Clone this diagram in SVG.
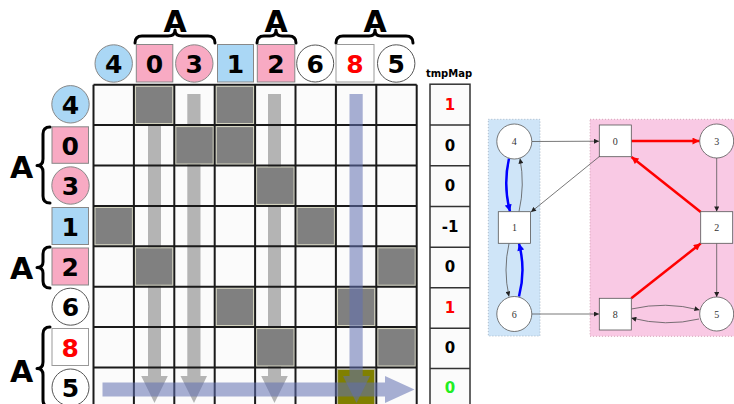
<svg xmlns="http://www.w3.org/2000/svg" width="734" height="404" viewBox="0 0 734 404">
<style>
.lbl{font-family:"DejaVu Sans","Verdana",sans-serif;font-weight:bold;font-size:25px;text-anchor:middle;dominant-baseline:central;fill:#000}
.bigA{font-family:"DejaVu Sans",sans-serif;font-weight:bold;font-size:30px;text-anchor:middle;dominant-baseline:central;fill:#000}
.brace{fill:none;stroke:#000;stroke-width:3;stroke-linejoin:round;stroke-linecap:round}
.pk{fill:#f8aac3;stroke:#888;stroke-width:1}
.bl{fill:#aad7f5;stroke:#888;stroke-width:1}
.wh{fill:#ffffff;stroke:#555;stroke-width:1}
.whs{fill:#ffffff;stroke:#999;stroke-width:1}
.cell{fill:#808080;stroke:#d6d6c0;stroke-width:1}
.grid{stroke:#1a1a1a;stroke-width:2;fill:none}
.tm{font-family:"DejaVu Sans",sans-serif;font-weight:bold;font-size:15px;text-anchor:middle;dominant-baseline:central;fill:#000}
.gn{fill:#fff;stroke:#555;stroke-width:0.8}
.gt{font-family:"Liberation Serif","DejaVu Serif",serif;font-size:10px;text-anchor:middle;dominant-baseline:central;fill:#333}
.thin{fill:none;stroke:#555;stroke-width:0.8}
.blu{fill:none;stroke:#0000ff;stroke-width:2.5}
.rd{fill:none;stroke:#ff0000;stroke-width:2.5}
.red{fill:#ff0000}
.grn{fill:#22ee22}
</style>
<defs>
<marker id="ak" viewBox="0 0 10 10" refX="10" refY="5" markerWidth="6" markerHeight="5" markerUnits="userSpaceOnUse" orient="auto"><path d="M0,0 L10,5 L0,10 z" fill="#222"/></marker>
<marker id="ab" viewBox="0 0 10 10" refX="10" refY="5" markerWidth="8" markerHeight="7" markerUnits="userSpaceOnUse" orient="auto"><path d="M0,0 L10,5 L0,10 z" fill="#0000ff"/></marker>
<marker id="ar" viewBox="0 0 10 10" refX="10" refY="5" markerWidth="8" markerHeight="7" markerUnits="userSpaceOnUse" orient="auto"><path d="M0,0 L10,5 L0,10 z" fill="#ff0000"/></marker>
</defs>
<rect x="0" y="0" width="734" height="404" fill="#ffffff"/>

<!-- top braces and A -->
<g id="top-braces">
<text class="bigA" x="175" y="21">A</text>
<path class="brace" d="M135,43 Q135,36 142,36 L168,36 Q175,36 175,30 Q175,36 182,36 L208,36 Q215,36 215,43"/>
<text class="bigA" x="276" y="21">A</text>
<path class="brace" d="M257,43 Q257,36 264,36 L270,36 Q276,36 276,30 Q276,36 282,36 L289,36 Q296,36 296,43"/>
<text class="bigA" x="375" y="21">A</text>
<path class="brace" d="M336,43 Q336,36 343,36 L369,36 Q375,36 375,30 Q375,36 381,36 L406,36 Q413,36 413,43"/>
</g>

<!-- header labels -->
<g id="header">
<g id="h4"><circle class="bl" cx="113.7" cy="63.5" r="18.7"/><text class="lbl" x="113.7" y="64.5">4</text></g>
<g id="h0"><rect class="pk" x="136.3" y="44.5" width="36.5" height="37.5"/><text class="lbl" x="154.5" y="64.5">0</text></g>
<g id="h3"><circle class="pk" cx="194.3" cy="63.5" r="18.7"/><text class="lbl" x="194.3" y="64.5">3</text></g>
<g id="h1"><rect class="bl" x="217.5" y="44.5" width="36" height="37.5"/><text class="lbl" x="235.5" y="64.5">1</text></g>
<g id="h2"><rect class="pk" x="257.3" y="44.5" width="37.5" height="37.5"/><text class="lbl" x="276" y="64.5">2</text></g>
<g id="h6"><circle class="wh" cx="315.2" cy="63.5" r="18.5"/><text class="lbl" x="315.2" y="64.5">6</text></g>
<g id="h8"><rect class="whs" x="336" y="44.5" width="38" height="37.5"/><text class="lbl red" x="355" y="64.5">8</text></g>
<g id="h5"><circle class="wh" cx="396.2" cy="63.5" r="18.7"/><text class="lbl" x="396.2" y="64.5">5</text></g>
</g>

<!-- left labels -->
<g id="left">
<g id="l4"><circle class="bl" cx="70.5" cy="104.3" r="18.7"/><text class="lbl" x="70.5" y="105.3">4</text></g>
<g id="l0"><rect class="pk" x="52" y="126.8" width="36.5" height="36.5"/><text class="lbl" x="70.3" y="146">0</text></g>
<g id="l3"><circle class="pk" cx="70.5" cy="185.5" r="18.7"/><text class="lbl" x="70.5" y="186.5">3</text></g>
<g id="l1"><rect class="bl" x="52" y="207.5" width="36.5" height="37"/><text class="lbl" x="70.3" y="227">1</text></g>
<g id="l2"><rect class="pk" x="52" y="248" width="36.5" height="37"/><text class="lbl" x="70.3" y="267.5">2</text></g>
<g id="l6"><circle class="wh" cx="70.5" cy="306.7" r="18.5"/><text class="lbl" x="70.5" y="307.7">6</text></g>
<g id="l8"><rect class="whs" x="52" y="328.5" width="36.5" height="37"/><text class="lbl red" x="70.3" y="348">8</text></g>
<g id="l5"><circle class="wh" cx="70.5" cy="387.5" r="18.5"/><text class="lbl" x="70.5" y="388.5">5</text></g>
<text class="bigA" x="21.5" y="167">A</text>
<path class="brace" d="M50,127 Q43,127 43,134 L43,159 Q43,165.5 37,165.5 Q43,165.5 43,172 L43,196 Q43,203 50,203"/>
<text class="bigA" x="21.5" y="268.5">A</text>
<path class="brace" d="M50,247 Q43,247 43,254 L43,262 Q43,267.5 37,267.5 Q43,267.5 43,273 L43,281 Q43,288 50,288"/>
<text class="bigA" x="21.5" y="371">A</text>
<path class="brace" d="M50,327 Q43,327 43,334 L43,362 Q43,368.5 37,368.5 Q43,368.5 43,375 L43,400 Q43,407 50,407"/>
</g>

<!-- matrix -->
<g id="matrix">
<rect x="93.5" y="84.7" width="323.2" height="323.2" fill="#fbfbfb"/>
<g id="gray-arrows" fill="#b4b4b4">
<path d="M148,94 L161,94 L161,376 L167.8,376 L154.5,403 L141.2,376 L148,376 z"/>
<path d="M187.3,94 L200.5,94 L200.5,376 L207,376 L194,403 L180.5,376 L187.3,376 z"/>
<path d="M268,94 L281,94 L281,376 L287.8,376 L274.5,403 L261.2,376 L268,376 z"/>
</g>
<g id="cells">
<rect class="cell" x="135.4" y="86.2" width="37.4" height="37.4"/>
<rect class="cell" x="216.2" y="86.2" width="37.4" height="37.4"/>
<rect class="cell" x="175.8" y="126.6" width="37.4" height="37.4"/>
<rect class="cell" x="216.2" y="126.6" width="37.4" height="37.4"/>
<rect class="cell" x="256.6" y="167" width="37.4" height="37.4"/>
<rect class="cell" x="95" y="207.4" width="37.4" height="37.4"/>
<rect class="cell" x="297" y="207.4" width="37.4" height="37.4"/>
<rect class="cell" x="135.4" y="247.8" width="37.4" height="37.4"/>
<rect class="cell" x="377.8" y="247.8" width="37.4" height="37.4"/>
<rect class="cell" x="216.2" y="288.2" width="37.4" height="37.4"/>
<rect class="cell" x="337.4" y="288.2" width="37.4" height="37.4"/>
<rect class="cell" x="256.6" y="328.6" width="37.4" height="37.4"/>
<rect class="cell" x="377.8" y="328.6" width="37.4" height="37.4"/>
</g>
<g id="grid-lines" class="grid">
<path d="M93.5,84.7 V408 M133.9,84.7 V408 M174.3,84.7 V408 M214.7,84.7 V408 M255.1,84.7 V408 M295.5,84.7 V408 M335.9,84.7 V408 M376.3,84.7 V408 M416.7,84.7 V408"/>
<path d="M93.5,84.7 H416.7 M93.5,125.1 H416.7 M93.5,165.5 H416.7 M93.5,205.9 H416.7 M93.5,246.3 H416.7 M93.5,286.7 H416.7 M93.5,327.1 H416.7 M93.5,367.5 H416.7"/>
</g>
<rect x="337.6" y="369.5" width="37" height="40" fill="#808000" stroke="#b8b890" stroke-width="1"/>
<g id="blue-arrows" fill="#6070b0" fill-opacity="0.55">
<path d="M349.5,94 L362.7,94 L362.7,376 L370,376 L356.5,403 L343,376 L349.5,376 z"/>
<path d="M102.5,382.5 L385,382.5 L385,376 L414.5,389.5 L385,403 L385,396.5 L102.5,396.5 z"/>
</g>
</g>

<!-- tmpMap -->
<g id="tmpMap">
<text x="449" y="73" font-family="DejaVu Sans,sans-serif" font-weight="bold" font-size="10" text-anchor="middle" dominant-baseline="central" fill="#000">tmpMap</text>
<rect x="430" y="84.2" width="40" height="324" fill="#fbfbfb" stroke="#333" stroke-width="1.5"/>
<path d="M430,125 H470 M430,165.8 H470 M430,206.5 H470 M430,247.2 H470 M430,287.8 H470 M430,328.3 H470 M430,368.5 H470" stroke="#333" stroke-width="1.5"/>
<text class="tm red" x="450" y="105">1</text>
<text class="tm" x="450" y="145.5">0</text>
<text class="tm" x="450" y="186">0</text>
<text class="tm" x="450" y="226.5">-1</text>
<text class="tm" x="450" y="267">0</text>
<text class="tm red" x="450" y="307.5">1</text>
<text class="tm" x="450" y="348">0</text>
<text class="tm grn" x="450" y="388">0</text>
</g>

<!-- graph -->
<g id="regions">
<rect x="488.3" y="119.3" width="51.7" height="216.7" fill="#cfe5f8" stroke="#9ab" stroke-width="0.8" stroke-dasharray="1,2"/>
<rect x="590" y="119.3" width="150" height="217" fill="#f9c9e4" stroke="#c9a" stroke-width="0.8" stroke-dasharray="1,2"/>
</g>
<g id="connectors">
<path class="thin" d="M532,141.5 L599,141.2" marker-end="url(#ak)"/>
<path class="thin" d="M600,156 L531,212" marker-end="url(#ak)"/>
<path class="blu" d="M509,158.5 Q503,185 510,211.5" marker-end="url(#ab)"/>
<path class="thin" d="M519,211.5 Q525,185 520,158.5" marker-end="url(#ak)"/>
<path class="thin" d="M509,243.5 Q503,270 509,296.5" marker-end="url(#ak)"/>
<path class="blu" d="M519,296.5 Q526,270 519,243.5" marker-end="url(#ab)"/>
<path class="thin" d="M532,314 L599,314" marker-end="url(#ak)"/>
<path class="rd" d="M631.3,141 L699.5,141" marker-end="url(#ar)"/>
<path class="thin" d="M716.7,158 L716.7,211.5" marker-end="url(#ak)"/>
<path class="rd" d="M700.7,212 L631.5,157" marker-end="url(#ar)"/>
<path class="rd" d="M631.3,298.3 L700.7,243.5" marker-end="url(#ar)"/>
<path class="thin" d="M716.7,243.3 L716.7,297" marker-end="url(#ak)"/>
<path class="thin" d="M631.3,309 Q666,301 699.5,310" marker-end="url(#ak)"/>
<path class="thin" d="M699,319 Q666,327 631.3,318" marker-end="url(#ak)"/>
</g>
<g id="n4"><circle class="gn" cx="514.3" cy="141.5" r="17.5"/><text class="gt" x="514.3" y="141.5">4</text></g>
<g id="n1"><rect class="gn" x="498.3" y="211.7" width="32.3" height="31.6"/><text class="gt" x="514.5" y="227.5">1</text></g>
<g id="n6"><circle class="gn" cx="514.3" cy="314" r="17.5"/><text class="gt" x="514.3" y="314">6</text></g>
<g id="n0"><rect class="gn" x="599.3" y="125" width="32" height="31.7"/><text class="gt" x="615.3" y="141">0</text></g>
<g id="n3"><circle class="gn" cx="716.7" cy="141" r="17"/><text class="gt" x="716.7" y="141">3</text></g>
<g id="n2"><rect class="gn" x="700.7" y="211.7" width="32" height="31.6"/><text class="gt" x="716.7" y="227.5">2</text></g>
<g id="n8"><rect class="gn" x="599.3" y="298.3" width="32" height="31.7"/><text class="gt" x="615.3" y="314">8</text></g>
<g id="n5"><circle class="gn" cx="716.7" cy="314" r="17"/><text class="gt" x="716.7" y="314">5</text></g>
</svg>
